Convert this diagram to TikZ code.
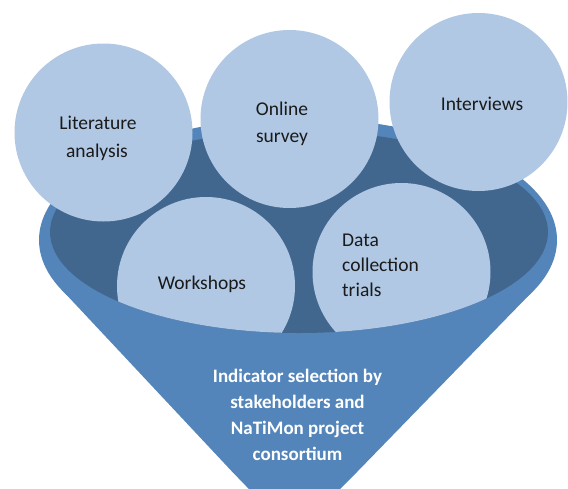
\documentclass[tikz,border=0pt]{standalone}
\usepackage{fontspec}
\setmainfont{Carlito}
\definecolor{circlefill}{HTML}{B0C8E4}
\definecolor{funnelfill}{HTML}{5485BA}
\definecolor{innerfill}{HTML}{42678F}
\definecolor{textdark}{HTML}{1A1A1A}
\tikzset{
  bubble/.style={circle, fill=circlefill, draw=none, inner sep=0pt, minimum size=178pt},
  label/.style={text=textdark, font=\fontsize{19.5}{27}\selectfont, align=center, inner sep=0pt},
  whitelabel/.style={text=white, font=\bfseries\fontsize{19}{26}\selectfont, align=center, inner sep=0pt}
}
\begin{document}
\begin{tikzpicture}[x=1pt, y=-1pt]
\useasboundingbox (0,0) rectangle (568,488);
\clip (0,0) rectangle (568,488);
% funnel geometry
\coordinate (C) at (298,240);
\coordinate (L) at (62,290);
\coordinate (R) at (533,291);
\coordinate (T) at (294,536);
\coordinate (P1) at (231.5,471);
\coordinate (P2) at (357,472);
% outer funnel body
\fill[funnelfill] (C) ellipse [x radius=259pt, y radius=122pt];
\fill[funnelfill] (L) -- (P1) .. controls (T) .. (P2) -- (R) -- cycle;
% inner opening
\fill[innerfill] (299,232) ellipse [x radius=249pt, y radius=101pt];
% back row bubbles
\node[bubble] (lit) at (103.5,132.5) {};
\node[bubble] (online) at (289.5,119) {};
\node[bubble] (interv) at (478.5,102) {};
% front row bubbles, cut by the front lip
\begin{scope}
  \clip (299,232) ellipse [x radius=249pt, y radius=101pt];
  \node[bubble] (work) at (206,286) {};
  \node[bubble] (data) at (401.5,272) {};
\end{scope}
% labels
\node[label, anchor=base] (litA) at (98,129) {Literature};
\node[label, anchor=base] (litB) at (97,157) {analysis};
\node[label, anchor=base] (onA) at (282,115) {Online};
\node[label, anchor=base] (onB) at (282,142) {survey};
\node[label, anchor=base] (intA) at (482,110) {Interviews};
\node[label, anchor=base] (workA) at (202,289) {Workshops};
\node[label, anchor=base west] (dataA) at (342,246) {Data};
\node[label, anchor=base west] (dataB) at (342,271) {collection};
\node[label, anchor=base west] (dataC) at (342,296) {trials};
\node[whitelabel, anchor=base] (selA) at (297.5,382) {Indicator selection by};
\node[whitelabel, anchor=base] (selB) at (297.5,408) {stakeholders and};
\node[whitelabel, anchor=base] (selC) at (297.5,434) {NaTiMon project};
\node[whitelabel, anchor=base] (selD) at (297.5,460) {consortium};
\end{tikzpicture}
\end{document}
